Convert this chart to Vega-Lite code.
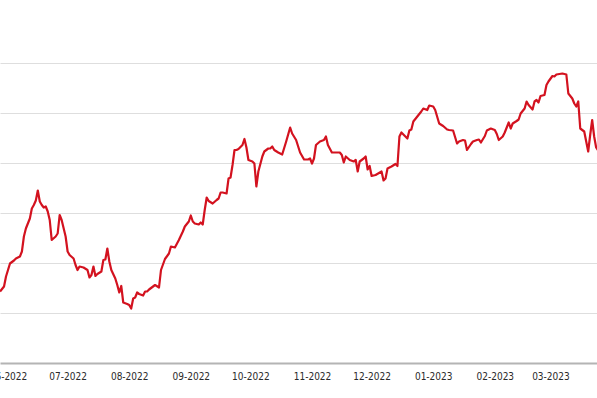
{
  "$schema": "https://vega.github.io/schema/vega-lite/v6.json",
  "width": 597,
  "height": 300,
  "autosize": {"type": "none"},
  "padding": {"left": 0, "top": 63, "right": 0, "bottom": 35},
  "background": "white",
  "config": {"view": {"stroke": null}},
  "data": {"values": [
    {"date": "2022-05-28", "value": 54.3},
    {"date": "2022-05-30", "value": 55.3},
    {"date": "2022-05-31", "value": 57.3},
    {"date": "2022-06-01", "value": 58.6},
    {"date": "2022-06-02", "value": 59.9},
    {"date": "2022-06-04", "value": 60.5},
    {"date": "2022-06-05", "value": 60.9},
    {"date": "2022-06-07", "value": 61.3},
    {"date": "2022-06-08", "value": 62.3},
    {"date": "2022-06-09", "value": 65.3},
    {"date": "2022-06-10", "value": 66.9},
    {"date": "2022-06-12", "value": 68.9},
    {"date": "2022-06-13", "value": 70.9},
    {"date": "2022-06-14", "value": 71.6},
    {"date": "2022-06-15", "value": 72.5},
    {"date": "2022-06-16", "value": 74.5},
    {"date": "2022-06-17", "value": 72.3},
    {"date": "2022-06-18", "value": 71.6},
    {"date": "2022-06-19", "value": 71.1},
    {"date": "2022-06-20", "value": 71.3},
    {"date": "2022-06-21", "value": 70.3},
    {"date": "2022-06-22", "value": 68.6},
    {"date": "2022-06-23", "value": 64.6},
    {"date": "2022-06-25", "value": 65.3},
    {"date": "2022-06-26", "value": 65.9},
    {"date": "2022-06-27", "value": 69.6},
    {"date": "2022-06-28", "value": 68.6},
    {"date": "2022-06-30", "value": 65.3},
    {"date": "2022-07-01", "value": 62.3},
    {"date": "2022-07-02", "value": 61.6},
    {"date": "2022-07-04", "value": 60.9},
    {"date": "2022-07-05", "value": 59.6},
    {"date": "2022-07-06", "value": 58.6},
    {"date": "2022-07-07", "value": 59.3},
    {"date": "2022-07-09", "value": 59.1},
    {"date": "2022-07-11", "value": 58.6},
    {"date": "2022-07-12", "value": 57.1},
    {"date": "2022-07-13", "value": 57.6},
    {"date": "2022-07-14", "value": 59.3},
    {"date": "2022-07-15", "value": 57.4},
    {"date": "2022-07-16", "value": 57.8},
    {"date": "2022-07-18", "value": 58.3},
    {"date": "2022-07-19", "value": 60.6},
    {"date": "2022-07-20", "value": 60.7},
    {"date": "2022-07-21", "value": 62.9},
    {"date": "2022-07-22", "value": 60.3},
    {"date": "2022-07-23", "value": 58.6},
    {"date": "2022-07-25", "value": 56.9},
    {"date": "2022-07-26", "value": 55.6},
    {"date": "2022-07-27", "value": 54.1},
    {"date": "2022-07-28", "value": 55.4},
    {"date": "2022-07-29", "value": 52.1},
    {"date": "2022-07-31", "value": 51.8},
    {"date": "2022-08-01", "value": 51.6},
    {"date": "2022-08-02", "value": 50.9},
    {"date": "2022-08-03", "value": 52.9},
    {"date": "2022-08-04", "value": 53.1},
    {"date": "2022-08-05", "value": 54.1},
    {"date": "2022-08-06", "value": 53.8},
    {"date": "2022-08-08", "value": 53.5},
    {"date": "2022-08-09", "value": 54.3},
    {"date": "2022-08-10", "value": 54.3},
    {"date": "2022-08-11", "value": 54.7},
    {"date": "2022-08-13", "value": 55.3},
    {"date": "2022-08-14", "value": 55.6},
    {"date": "2022-08-16", "value": 55.1},
    {"date": "2022-08-17", "value": 58.6},
    {"date": "2022-08-19", "value": 60.8},
    {"date": "2022-08-21", "value": 61.9},
    {"date": "2022-08-22", "value": 63.3},
    {"date": "2022-08-24", "value": 63.1},
    {"date": "2022-08-26", "value": 64.6},
    {"date": "2022-08-28", "value": 66.3},
    {"date": "2022-08-29", "value": 67.3},
    {"date": "2022-08-31", "value": 68.3},
    {"date": "2022-09-01", "value": 69.5},
    {"date": "2022-09-02", "value": 68.3},
    {"date": "2022-09-03", "value": 67.9},
    {"date": "2022-09-05", "value": 67.7},
    {"date": "2022-09-06", "value": 68.1},
    {"date": "2022-09-07", "value": 67.7},
    {"date": "2022-09-08", "value": 70.6},
    {"date": "2022-09-09", "value": 73.1},
    {"date": "2022-09-10", "value": 72.4},
    {"date": "2022-09-12", "value": 71.9},
    {"date": "2022-09-14", "value": 72.6},
    {"date": "2022-09-15", "value": 72.9},
    {"date": "2022-09-16", "value": 74.1},
    {"date": "2022-09-17", "value": 74.1},
    {"date": "2022-09-19", "value": 73.9},
    {"date": "2022-09-20", "value": 76.9},
    {"date": "2022-09-21", "value": 77.1},
    {"date": "2022-09-22", "value": 79.6},
    {"date": "2022-09-23", "value": 82.6},
    {"date": "2022-09-24", "value": 82.6},
    {"date": "2022-09-25", "value": 82.8},
    {"date": "2022-09-27", "value": 83.6},
    {"date": "2022-09-28", "value": 84.8},
    {"date": "2022-09-29", "value": 83.1},
    {"date": "2022-09-30", "value": 80.6},
    {"date": "2022-10-02", "value": 80.3},
    {"date": "2022-10-03", "value": 79.9},
    {"date": "2022-10-04", "value": 75.3},
    {"date": "2022-10-05", "value": 78.3},
    {"date": "2022-10-07", "value": 81.3},
    {"date": "2022-10-08", "value": 82.3},
    {"date": "2022-10-10", "value": 82.9},
    {"date": "2022-10-11", "value": 82.9},
    {"date": "2022-10-12", "value": 83.3},
    {"date": "2022-10-13", "value": 82.6},
    {"date": "2022-10-15", "value": 82.1},
    {"date": "2022-10-17", "value": 81.7},
    {"date": "2022-10-19", "value": 84.3},
    {"date": "2022-10-21", "value": 87.1},
    {"date": "2022-10-22", "value": 85.9},
    {"date": "2022-10-24", "value": 84.6},
    {"date": "2022-10-26", "value": 82.1},
    {"date": "2022-10-28", "value": 80.7},
    {"date": "2022-10-30", "value": 80.7},
    {"date": "2022-10-31", "value": 80.9},
    {"date": "2022-11-01", "value": 79.9},
    {"date": "2022-11-02", "value": 80.9},
    {"date": "2022-11-03", "value": 83.6},
    {"date": "2022-11-05", "value": 84.3},
    {"date": "2022-11-07", "value": 84.6},
    {"date": "2022-11-08", "value": 85.3},
    {"date": "2022-11-09", "value": 83.6},
    {"date": "2022-11-11", "value": 82.1},
    {"date": "2022-11-13", "value": 82.1},
    {"date": "2022-11-15", "value": 82.1},
    {"date": "2022-11-16", "value": 81.6},
    {"date": "2022-11-17", "value": 80.1},
    {"date": "2022-11-18", "value": 81.3},
    {"date": "2022-11-20", "value": 80.6},
    {"date": "2022-11-22", "value": 80.3},
    {"date": "2022-11-23", "value": 80.6},
    {"date": "2022-11-24", "value": 78.3},
    {"date": "2022-11-25", "value": 80.3},
    {"date": "2022-11-27", "value": 80.9},
    {"date": "2022-11-28", "value": 81.3},
    {"date": "2022-11-29", "value": 78.7},
    {"date": "2022-11-30", "value": 79.4},
    {"date": "2022-12-01", "value": 77.4},
    {"date": "2022-12-03", "value": 77.6},
    {"date": "2022-12-06", "value": 78.3},
    {"date": "2022-12-07", "value": 76.5},
    {"date": "2022-12-08", "value": 76.9},
    {"date": "2022-12-09", "value": 78.9},
    {"date": "2022-12-11", "value": 79.3},
    {"date": "2022-12-13", "value": 79.8},
    {"date": "2022-12-14", "value": 79.4},
    {"date": "2022-12-15", "value": 85.3},
    {"date": "2022-12-16", "value": 86.1},
    {"date": "2022-12-18", "value": 85.3},
    {"date": "2022-12-19", "value": 84.9},
    {"date": "2022-12-20", "value": 86.5},
    {"date": "2022-12-21", "value": 86.7},
    {"date": "2022-12-22", "value": 88.3},
    {"date": "2022-12-24", "value": 89.3},
    {"date": "2022-12-26", "value": 90.3},
    {"date": "2022-12-27", "value": 90.9},
    {"date": "2022-12-29", "value": 90.6},
    {"date": "2022-12-30", "value": 91.5},
    {"date": "2023-01-01", "value": 91.3},
    {"date": "2023-01-02", "value": 90.6},
    {"date": "2023-01-04", "value": 87.9},
    {"date": "2023-01-06", "value": 87.4},
    {"date": "2023-01-08", "value": 86.7},
    {"date": "2023-01-09", "value": 86.6},
    {"date": "2023-01-11", "value": 86.5},
    {"date": "2023-01-13", "value": 83.9},
    {"date": "2023-01-14", "value": 84.3},
    {"date": "2023-01-16", "value": 84.6},
    {"date": "2023-01-17", "value": 84.5},
    {"date": "2023-01-18", "value": 82.6},
    {"date": "2023-01-20", "value": 83.8},
    {"date": "2023-01-21", "value": 84.3},
    {"date": "2023-01-23", "value": 84.6},
    {"date": "2023-01-24", "value": 84.7},
    {"date": "2023-01-25", "value": 84.1},
    {"date": "2023-01-27", "value": 85.4},
    {"date": "2023-01-28", "value": 86.5},
    {"date": "2023-01-30", "value": 86.9},
    {"date": "2023-02-01", "value": 86.6},
    {"date": "2023-02-02", "value": 85.8},
    {"date": "2023-02-03", "value": 84.6},
    {"date": "2023-02-05", "value": 85.3},
    {"date": "2023-02-06", "value": 86.1},
    {"date": "2023-02-08", "value": 88.1},
    {"date": "2023-02-09", "value": 86.9},
    {"date": "2023-02-10", "value": 87.9},
    {"date": "2023-02-12", "value": 88.4},
    {"date": "2023-02-13", "value": 88.7},
    {"date": "2023-02-14", "value": 89.9},
    {"date": "2023-02-16", "value": 90.9},
    {"date": "2023-02-17", "value": 92.3},
    {"date": "2023-02-18", "value": 91.6},
    {"date": "2023-02-20", "value": 90.7},
    {"date": "2023-02-21", "value": 92.3},
    {"date": "2023-02-22", "value": 92.6},
    {"date": "2023-02-23", "value": 92.1},
    {"date": "2023-02-24", "value": 93.4},
    {"date": "2023-02-26", "value": 93.6},
    {"date": "2023-02-27", "value": 95.6},
    {"date": "2023-02-28", "value": 96.3},
    {"date": "2023-03-02", "value": 97.4},
    {"date": "2023-03-03", "value": 97.3},
    {"date": "2023-03-04", "value": 97.7},
    {"date": "2023-03-07", "value": 97.9},
    {"date": "2023-03-09", "value": 97.7},
    {"date": "2023-03-10", "value": 93.9},
    {"date": "2023-03-12", "value": 92.9},
    {"date": "2023-03-13", "value": 91.9},
    {"date": "2023-03-14", "value": 91.3},
    {"date": "2023-03-15", "value": 92.3},
    {"date": "2023-03-16", "value": 86.9},
    {"date": "2023-03-18", "value": 86.3},
    {"date": "2023-03-19", "value": 84.3},
    {"date": "2023-03-20", "value": 82.3},
    {"date": "2023-03-21", "value": 85.6},
    {"date": "2023-03-22", "value": 88.6},
    {"date": "2023-03-23", "value": 85.3},
    {"date": "2023-03-24", "value": 83.1},
    {"date": "2023-03-25", "value": 82.5}
  ]},
  "mark": {"type": "line", "clip": true, "color": "#d3121f", "strokeWidth": 2.2, "strokeJoin": "round"},
  "encoding": {
    "x": {
      "field": "date",
      "type": "temporal",
      "scale": {
        "type": "utc",
        "domain": [
          {"year": 2022, "month": 5, "date": 27, "hours": 23, "minutes": 22, "utc": true},
          {"year": 2023, "month": 3, "date": 24, "hours": 10, "minutes": 20, "utc": true}
        ]
      },
      "axis": {
        "title": null,
        "format": "%m-%Y",
        "values": [
          {"year": 2022, "month": 6, "date": 1, "utc": true},
          {"year": 2022, "month": 7, "date": 1, "utc": true},
          {"year": 2022, "month": 8, "date": 1, "utc": true},
          {"year": 2022, "month": 9, "date": 1, "utc": true},
          {"year": 2022, "month": 10, "date": 1, "utc": true},
          {"year": 2022, "month": 11, "date": 1, "utc": true},
          {"year": 2022, "month": 12, "date": 1, "utc": true},
          {"year": 2023, "month": 1, "date": 1, "utc": true},
          {"year": 2023, "month": 2, "date": 1, "utc": true},
          {"year": 2023, "month": 3, "date": 1, "utc": true}
        ],
        "grid": false,
        "ticks": false,
        "domainColor": "#b4b4b4",
        "domainWidth": 2,
        "labelFlush": false,
        "labelOverlap": false,
        "labelPadding": 8,
        "labelFont": "DejaVu Sans Condensed, Roboto, sans-serif",
        "labelFontSize": 10,
        "labelFontWeight": 500,
        "labelColor": "#2a2a2a"
      }
    },
    "y": {
      "field": "value",
      "type": "quantitative",
      "scale": {"domain": [40, 100], "nice": false, "zero": false},
      "axis": {
        "title": null,
        "labels": false,
        "ticks": false,
        "domain": false,
        "grid": true,
        "gridColor": "#dedede",
        "gridWidth": 1,
        "values": [50, 60, 70, 80, 90, 100]
      }
    }
  }
}
